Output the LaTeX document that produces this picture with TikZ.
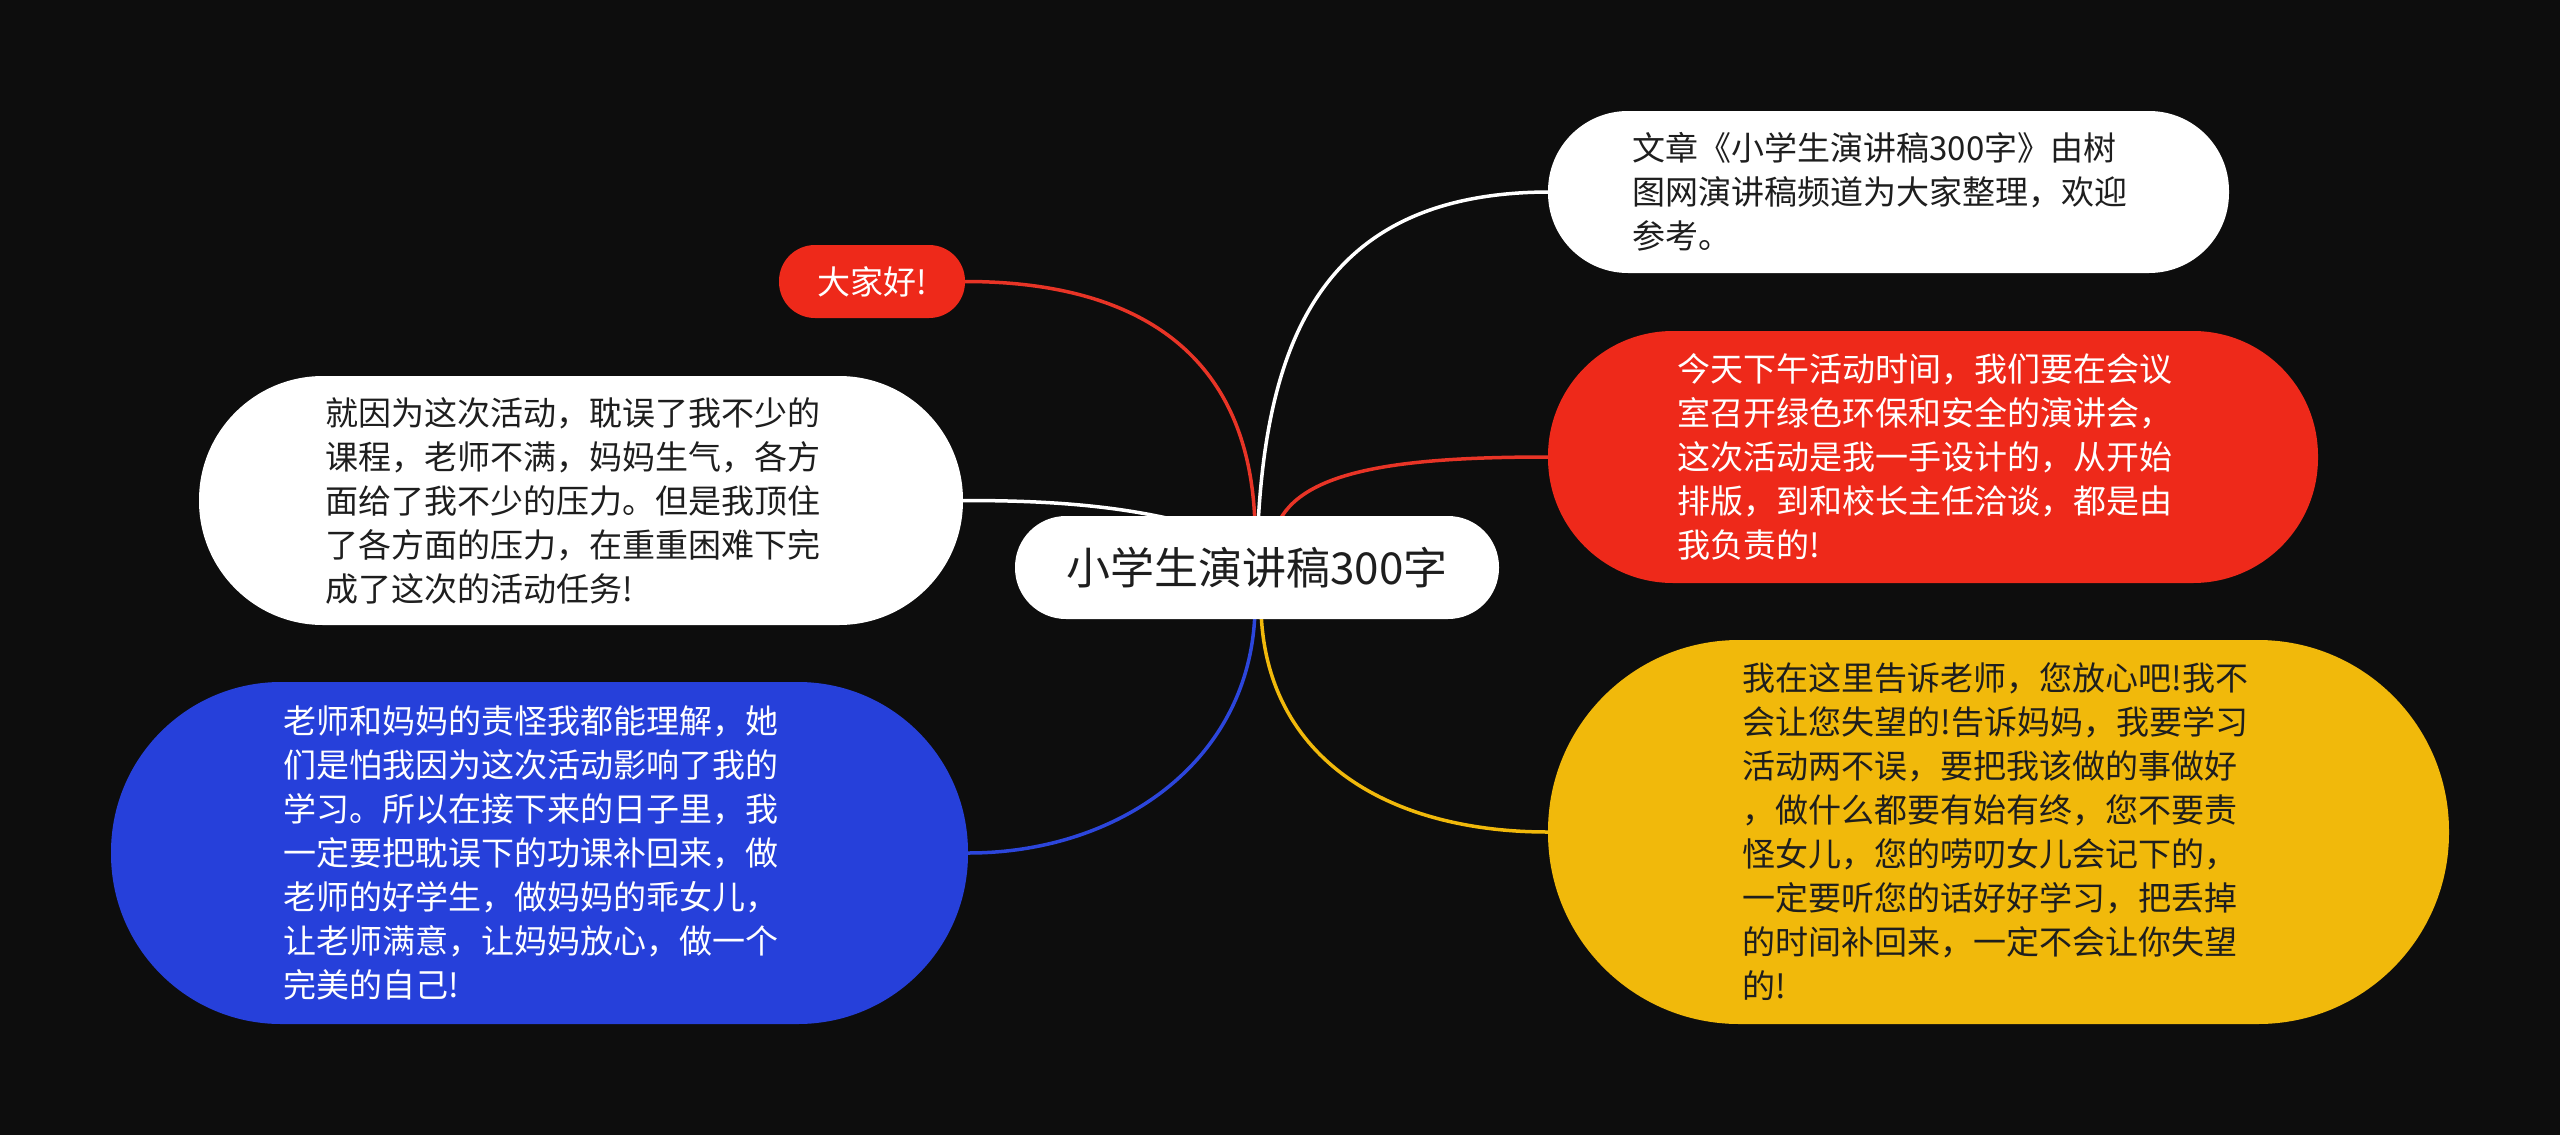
\documentclass[tikz,border=0pt]{standalone}
\usepackage{fontspec}
\setmainfont{Noto Sans CJK SC}
\usetikzlibrary{calc}
\pgfdeclarelayer{bg}
\pgfsetlayers{bg,main}
\definecolor{bgc}{RGB}{13,13,13}
\definecolor{myred}{RGB}{238,41,26}
\definecolor{linered}{RGB}{232,52,38}
\definecolor{myblue}{RGB}{38,64,218}
\definecolor{lineblue}{RGB}{44,70,220}
\definecolor{myyellow}{RGB}{241,185,11}
\definecolor{darktext}{RGB}{30,30,30}
\begin{document}
\begin{tikzpicture}[x=1pt,y=-1pt,
  box/.style={rectangle, inner sep=0pt, align=left, text width=512pt, font=\fontsize{33}{44}\selectfont},
  conn/.style={line width=3.5pt}]
\useasboundingbox (0,0) rectangle (2560,1135);

\node[box, fill=white, text=darktext, text width=, minimum width=484pt, minimum height=103pt, rounded corners=51pt, font=\fontsize{44}{50}\selectfont] (c) at (1257,567.5) {小学生演讲稿300字};

\node[box, fill=white, text=darktext, minimum width=681pt, minimum height=162pt, rounded corners=80pt] (n1) at (1888.5,192) {文章《小学生演讲稿300字》由树\\图网演讲稿频道为大家整理，欢迎\\参考。};

\node[box, fill=myred, text=white, minimum width=770pt, minimum height=252pt, rounded corners=125pt] (n2) at (1933,457) {今天下午活动时间，我们要在会议\\室召开绿色环保和安全的演讲会，\\这次活动是我一手设计的，从开始\\排版，到和校长主任洽谈，都是由\\我负责的!};

\node[box, fill=myyellow, text=darktext, minimum width=901pt, minimum height=384pt, rounded corners=191pt] (n3) at (1998.5,832) {我在这里告诉老师，您放心吧!我不\\会让您失望的!告诉妈妈，我要学习\\活动两不误，要把我该做的事做好\\，做什么都要有始有终，您不要责\\怪女儿，您的唠叨女儿会记下的，\\一定要听您的话好好学习，把丢掉\\的时间补回来，一定不会让你失望\\的!};

\node[box, fill=myred, text=white, text width=, minimum width=186pt, minimum height=73pt, rounded corners=36pt] (n4) at (872,281.5) {大家好!};

\node[box, fill=white, text=darktext, minimum width=764pt, minimum height=249pt, rounded corners=124pt] (n5) at (581,500.5) {就因为这次活动，耽误了我不少的\\课程，老师不满，妈妈生气，各方\\面给了我不少的压力。但是我顶住\\了各方面的压力，在重重困难下完\\成了这次的活动任务!};

\node[box, fill=myblue, text=white, minimum width=857pt, minimum height=342pt, rounded corners=170pt] (n6) at (539.5,853) {老师和妈妈的责怪我都能理解，她\\们是怕我因为这次活动影响了我的\\学习。所以在接下来的日子里，我\\一定要把耽误下的功课补回来，做\\老师的好学生，做妈妈的乖女儿，\\让老师满意，让妈妈放心，做一个\\完美的自己!};

\begin{pgfonlayer}{bg}
\fill[bgc] (0,0) rectangle (2560,1135);
\draw[conn, white] ($(c.north)+(1,10)$) .. controls (1268,330) and (1330,193) .. (n1.west);
\draw[conn, linered] ($(c.north)+(-2,10)$) .. controls (1250,340) and (1120,281.5) .. (n4.east);
\draw[conn, linered] ($(c.north)+(20,10)$) .. controls (1300,470) and (1400,457) .. (n2.west);
\draw[conn, white] ($(c.north)+(-17,24)$) .. controls (1150,505) and (1050,500.5) .. (n5.east);
\draw[conn, lineblue] ($(c.south)+(-2,-10)$) .. controls (1252,760) and (1120,853) .. (n6.east);
\draw[conn, myyellow] ($(c.south)+(4,-10)$) .. controls (1265,760) and (1390,832) .. (n3.west);
\end{pgfonlayer}
\end{tikzpicture}
\end{document}
